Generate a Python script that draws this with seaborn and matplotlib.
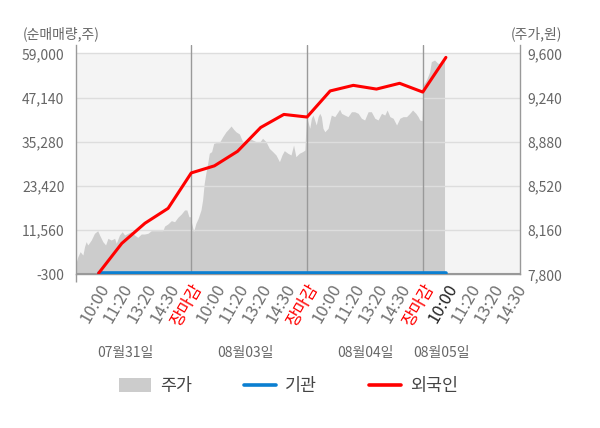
import matplotlib
matplotlib.use("Agg")
import matplotlib.pyplot as plt
import seaborn as sns
import pandas as pd
from matplotlib.patches import Patch
from matplotlib.lines import Line2D

# ---------------- data ----------------
tick_labels = ["10:00", "11:20", "13:20", "14:30", "장마감",
               "10:00", "11:20", "13:20", "14:30", "장마감",
               "10:00", "11:20", "13:20", "14:30", "장마감",
               "10:00", "11:20", "13:20", "14:30"]
day_labels = ["07월31일", "08월03일", "08월04일", "08월05일"]

flow_idx = [1, 2, 3, 4, 5, 6, 7, 8, 9, 10, 11, 12, 13, 14, 15, 16]
foreign_net = [0, 8000, 13400, 17400, 26900, 28800, 32700, 39100, 42600,
               41900, 48900, 50400, 49400, 50950, 48600, 57900]
inst_net = [0, 0, 0, 0, 0, 0, 0, 0, 0, 0, 0, 0, 0, 0, 0, 0]

price_t = [0.00, 0.10, 0.20, 0.32, 0.39, 0.46, 0.53, 0.68, 0.82, 0.96, 1.04, 1.18,
           1.30, 1.40, 1.54, 1.69, 1.76, 1.90, 2.02, 2.12, 2.26, 2.41, 2.55, 2.69,
           2.84, 2.98, 3.13, 3.27, 3.49, 3.77, 3.85, 3.99, 4.14, 4.28, 4.42, 4.57,
           4.71, 4.81, 4.90,
           4.96, 5.02, 5.10, 5.20, 5.30, 5.42, 5.49, 5.56, 5.63, 5.71, 5.78, 5.88,
           5.97, 6.07, 6.21, 6.36, 6.50, 6.60, 6.72, 6.83, 6.93, 7.08, 7.22, 7.36,
           7.51, 7.65, 7.80, 7.94, 8.08, 8.23, 8.37, 8.52, 8.66, 8.81, 8.92, 9.02,
           9.17, 9.31, 9.42, 9.52, 9.67, 9.81, 9.91,
           9.97, 10.04, 10.12, 10.19, 10.26, 10.33, 10.40, 10.48, 10.55, 10.62,
           10.69, 10.77, 10.91, 11.05, 11.20, 11.34, 11.41, 11.49, 11.63, 11.77,
           11.92, 12.06, 12.21, 12.35, 12.49, 12.64, 12.78, 12.93, 13.07, 13.22,
           13.36, 13.46, 13.58, 13.72, 13.87, 14.01, 14.15, 14.30, 14.44, 14.56,
           14.70, 14.80, 14.87, 14.97,
           15.02, 15.16, 15.30, 15.37, 15.51, 15.65, 15.80, 15.87, 15.94]
price_v = [7876, 7943, 7984, 7957, 8025, 8066, 8039, 8079, 8134, 8155, 8120, 8066,
           8039, 8093, 8079, 8093, 8052, 8120, 8147, 8120, 8134, 8147, 8120, 8101,
           8128, 8128, 8134, 8155, 8155, 8155, 8193, 8210, 8237, 8228, 8264, 8291,
           8324, 8324, 8269,
           8269, 8215, 8147, 8215, 8256, 8324, 8405, 8541, 8623, 8704, 8786, 8799,
           8867, 8872, 8872, 8921, 8961, 8981, 9008, 8981, 8961, 8943, 8880, 8867,
           8908, 8894, 8880, 8872, 8908, 8880, 8826, 8799, 8772, 8717, 8772, 8807,
           8786, 8772, 8853, 8758, 8786, 8799, 8812,
           9084, 9043, 8989, 9071, 9097, 9057, 9016, 9084, 9111, 9084,
           8989, 8961, 8989, 9097, 9084, 9124, 9144, 9111, 9097, 9084,
           9124, 9124, 9111, 9071, 9057, 9124, 9124, 9071, 9057, 9111,
           9097, 9138, 9084, 9071, 9016, 9071, 9084, 9084, 9111, 9138,
           9111, 9084, 9057, 9051,
           9342, 9383, 9450, 9532, 9545, 9519, 9519, 9532, 9559]

left_ticks = [-300, 11560, 23420, 35280, 47140, 59000]
right_ticks = [7800, 8160, 8520, 8880, 9240, 9600]

flows = pd.DataFrame({"idx": flow_idx, "foreign": foreign_net, "inst": inst_net})
prices = pd.DataFrame({"t": price_t, "price": price_v})

# ---------------- style ----------------
sns.set_theme(style="white")
plt.rcParams['font.family'] = ['Noto Sans CJK KR', 'DejaVu Sans']
plt.rcParams['axes.unicode_minus'] = False

W, H = 600, 428
L, R, T, B = 75.5, 520, 45, 274.3
TOPV = 53.3
fig = plt.figure(figsize=(W / 100, H / 100), dpi=100)
ax = fig.add_axes([L / W, 1 - B / H, (R - L) / W, (B - T) / H])
ax2 = ax.twinx()

GREY_TXT = '#666666'
SPINE = '#999999'
RED = '#ff0000'
BLUE = '#0b7fd1'
AREA = '#cccccc'

p_lo, p_hi = right_ticks[0], right_ticks[-1]
ax.set_ylim(p_lo, p_hi + (TOPV - T) * (p_hi - p_lo) / (B - TOPV))
v_lo, v_hi = left_ticks[0], left_ticks[-1]
ax2.set_ylim(v_lo, v_hi + (TOPV - T) * (v_hi - v_lo) / (B - TOPV))
ax.set_xlim(0, (R - L) / 23.15)

ax.set_facecolor('white')
ax.axhspan(p_lo, p_hi, color='#f4f4f4', lw=0, zorder=0)
ax.fill_between(prices["t"], p_lo, prices["price"], color=AREA, lw=0, zorder=1)
for v in right_ticks[1:]:
    ax.axhline(v, color='#dddddd', lw=1, zorder=1.5)
for d in [5, 10, 15]:
    ax.axvline(d, color=SPINE, lw=1, zorder=2)

sns.lineplot(data=flows, x="idx", y="inst", ax=ax2, color=BLUE, lw=2.6, zorder=3)
sns.lineplot(data=flows, x="idx", y="foreign", ax=ax2, color=RED, lw=2.2, zorder=4)
ax2.axhline(0, color=SPINE, lw=0.8, zorder=2)
ax2.set_xlabel("")
ax2.set_ylabel("")
ax.set_xlabel("")
ax.set_ylabel("")

for a in (ax, ax2):
    for s in a.spines.values():
        s.set_visible(False)
for side in ("left", "right", "bottom"):
    ax.spines[side].set_visible(True)
    ax.spines[side].set_color(SPINE)
    ax.spines[side].set_linewidth(1)

# y axes
ax.yaxis.tick_right()
ax.set_yticks(right_ticks)
ax.set_yticklabels([f"{v:,}" for v in right_ticks])
ax.tick_params(axis='y', length=0, pad=5, labelsize=10, labelcolor=GREY_TXT)
ax2.yaxis.tick_left()
ax2.set_yticks(left_ticks)
ax2.set_yticklabels([f"{v:,}" for v in left_ticks])
ax2.tick_params(axis='y', length=0, pad=8, labelsize=10, labelcolor=GREY_TXT)

# x axis
ax.set_xticks(list(range(1, len(tick_labels) + 1)))
ax.set_xticklabels(tick_labels)
ax.set_xticks([0, 5, 10, 15], minor=True)
ax.tick_params(axis='x', which='major', length=0, pad=5, labelsize=12)
ax.tick_params(axis='x', which='minor', length=6, width=1, color=SPINE, bottom=True)
for i, lab in enumerate(ax.get_xticklabels()):
    lab.set_rotation(60)
    lab.set_ha('right')
    lab.set_va('top')
    lab.set_rotation_mode('anchor')
    if tick_labels[i] == "장마감":
        lab.set_color(RED)
    elif i == 15:
        lab.set_color('#222222')
    else:
        lab.set_color('#707070')

# day labels
day_px = [125, 245, 365, 441]
for px, t in zip(day_px, day_labels):
    fig.text(px / W, 1 - 353.3 / H, t, ha='center', va='center', fontsize=10, color=GREY_TXT)

# axis titles
fig.text(23 / W, 1 - 34 / H, "(순매매량,주)", ha='left', va='center', fontsize=10, color=GREY_TXT)
fig.text(562 / W, 1 - 34 / H, "(주가,원)", ha='right', va='center', fontsize=10, color=GREY_TXT)

# legend
handles = [Patch(facecolor=AREA, edgecolor='none'),
           Line2D([0], [0], color=BLUE, lw=2.6),
           Line2D([0], [0], color=RED, lw=2.6)]
fig.legend(handles, ["주가", "기관", "외국인"], loc='center',
           bbox_to_anchor=(288.5 / W, 1 - 386 / H), ncol=3, frameon=False,
           fontsize=12.5, handlelength=1.85, handleheight=0.8, handletextpad=0.5,
           columnspacing=3.0, labelcolor='#444444')

fig.savefig("out.png", dpi=100)
